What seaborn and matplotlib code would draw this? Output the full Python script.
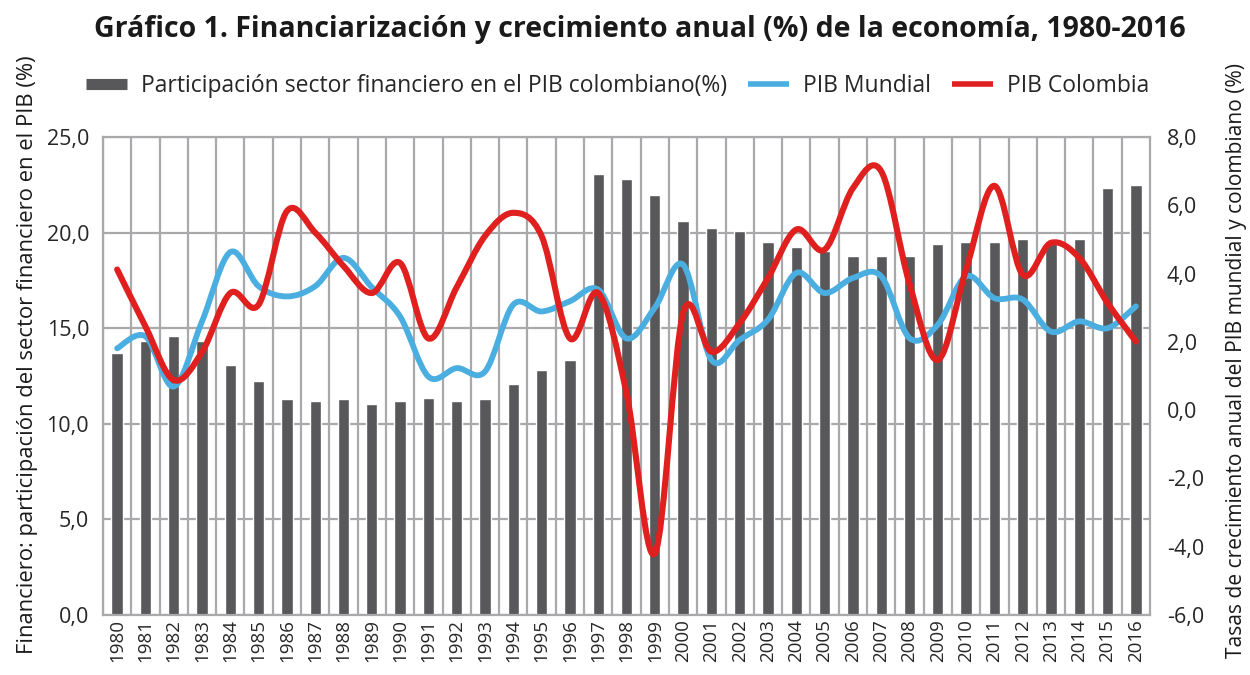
import numpy as np
import pandas as pd
import matplotlib
matplotlib.use("Agg")
import matplotlib.pyplot as plt
import seaborn as sns
from matplotlib.path import Path
from matplotlib.patches import PathPatch
from matplotlib.lines import Line2D

# =====================================
# DATA
# =====================================

years = [str(y) for y in range(1980, 2017)]

# participacion del sector financiero en el PIB (%) - eje izquierdo
financiero = [13.7, 14.35, 14.6, 14.35, 13.07, 12.23, 11.27, 11.18, 11.27, 11.02,
              11.2, 11.37, 11.2, 11.29, 12.06, 12.81, 13.33, 23.08, 22.82, 21.96,
              20.6, 20.25, 20.07, 19.49, 19.23, 19.02, 18.79, 18.79, 18.79, 19.4,
              19.49, 19.49, 19.67, 19.58, 19.67, 22.31, 22.47]

# crecimiento anual (%) - eje derecho
pib_mundial = [1.81, 2.16, 0.69, 2.6, 4.63, 3.63, 3.33, 3.63, 4.46, 3.6,
               2.74, 0.98, 1.23, 1.13, 3.09, 2.89, 3.19, 3.53, 2.1, 3.0,
               4.26, 1.47, 2.06, 2.65, 4.02, 3.43, 3.87, 3.92, 2.11, 2.5,
               3.92, 3.28, 3.24, 2.3, 2.6, 2.4, 3.04]

pib_colombia = [4.12, 2.45, 0.88, 1.7, 3.43, 3.09, 5.83, 5.2, 4.22, 3.43,
                4.31, 2.1, 3.6, 5.1, 5.78, 5.1, 2.1, 3.43, 0.5, -4.2,
                2.84, 1.71, 2.55, 3.87, 5.29, 4.7, 6.5, 7.0, 3.7, 1.47,
                4.12, 6.57, 3.97, 4.9, 4.46, 3.14, 2.01]

left_ticks = [0, 5, 10, 15, 20, 25]
right_ticks = [-6, -4, -2, 0, 2, 4, 6, 8]

title = "Gráfico 1. Financiarización y crecimiento anual (%) de la economía, 1980-2016"
legend_labels = ["Participación sector financiero en el PIB colombiano(%)",
                 "PIB Mundial", "PIB Colombia"]
ylabel_left = "Financiero: participación del sector financiero en el PIB (%)"
ylabel_right = "Tasas de crecimiento anual del PIB mundial y colombiano (%)"

GRAY = "#58585a"
BLUE = "#4baee0"
RED = "#e0201f"
GRID = "#a9a9ab"

df = pd.DataFrame({"year": years, "financiero": financiero})

# =====================================
# STYLE
# =====================================

sns.set_theme(style="white")
plt.rcParams["font.family"] = ["Open Sans", "DejaVu Sans"]


def smooth_path(xs, ys):
    # curva suavizada tipo Excel (Catmull-Rom como Bezier cubica)
    pts = np.column_stack([xs, ys]).astype(float)
    n = len(pts)
    verts = [pts[0]]
    codes = [Path.MOVETO]
    for i in range(n - 1):
        p0 = pts[i - 1] if i > 0 else pts[i]
        p1 = pts[i]
        p2 = pts[i + 1]
        p3 = pts[i + 2] if i + 2 < n else pts[i + 1]
        c1 = p1 + (p2 - p0) / 6.0
        c2 = p2 - (p3 - p1) / 6.0
        verts += [c1, c2, p2]
        codes += [Path.CURVE4] * 3
    return Path(verts, codes)


# =====================================
# PLOT
# =====================================

fig = plt.figure(figsize=(12.5, 6.75), dpi=100)
ax = fig.add_axes([0.0824, 0.089, 0.8376, 0.708])

sns.barplot(x="year", y="financiero", data=df, color=GRAY, width=0.4,
            saturation=1, errorbar=None, ax=ax, zorder=2)

ax.set_ylim(0, 25)
ax.set_yticks(left_ticks)
ax.set_yticklabels([f"{t:.1f}".replace(".", ",") for t in left_ticks], fontsize=15.5)
ax.set_xlabel("")
ax.set_ylabel("")
ax.tick_params(axis="x", labelrotation=90, labelsize=13.5, length=0, pad=3)
ax.tick_params(axis="y", length=0, pad=10)

# rejilla: horizontales en ticks izquierdos, verticales entre barras
ax.set_xticks(np.arange(len(years)) - 0.5, minor=True)
ax.set_axisbelow(True)
ax.yaxis.grid(True, color=GRID, lw=1.6)
ax.xaxis.grid(True, which="minor", color=GRID, lw=1.6)
ax.xaxis.grid(False, which="major")
for s in ax.spines.values():
    s.set_color(GRID)
    s.set_linewidth(1.6)

ax2 = ax.twinx()
xpos = np.arange(len(years))
ax2.add_patch(PathPatch(smooth_path(xpos, pib_mundial), facecolor="none",
                        edgecolor=BLUE, lw=4.2, capstyle="round", joinstyle="round"))
ax2.add_patch(PathPatch(smooth_path(xpos, pib_colombia), facecolor="none",
                        edgecolor=RED, lw=4.4, capstyle="round", joinstyle="round"))
ax2.set_ylim(-6, 8)
ax2.set_yticks(right_ticks)
ax2.set_yticklabels([f"{t:.1f}".replace(".", ",") for t in right_ticks], fontsize=15.5)
ax2.tick_params(axis="y", length=0, pad=12)
for s in ax2.spines.values():
    s.set_visible(False)

ax.set_xlim(-0.5, len(years) - 0.5)

# =====================================
# TEXTS
# =====================================

fig.text(0.512, 1 - 29 / 675, title, ha="center", va="center",
         fontsize=20.5, fontweight="bold", color="#1a1a1a")

fig.text(0.022, 0.474, ylabel_left, rotation=90, ha="center", va="center",
         fontsize=15.8, color="#1a1a1a")
fig.text(0.989, 0.466, ylabel_right, rotation=90, ha="center", va="center",
         fontsize=15.1, color="#1a1a1a")

handles = [Line2D([], [], color=GRAY, lw=8, solid_capstyle="butt"),
           Line2D([], [], color=BLUE, lw=4, solid_capstyle="butt"),
           Line2D([], [], color=RED, lw=4, solid_capstyle="butt")]
fig.legend(handles, legend_labels, loc="center", bbox_to_anchor=(0.494, 1 - 86 / 675),
           ncol=3, frameon=False, fontsize=16.5, handlelength=1.8,
           handletextpad=0.6, columnspacing=0.9)

fig.savefig("out.png", dpi=100)
